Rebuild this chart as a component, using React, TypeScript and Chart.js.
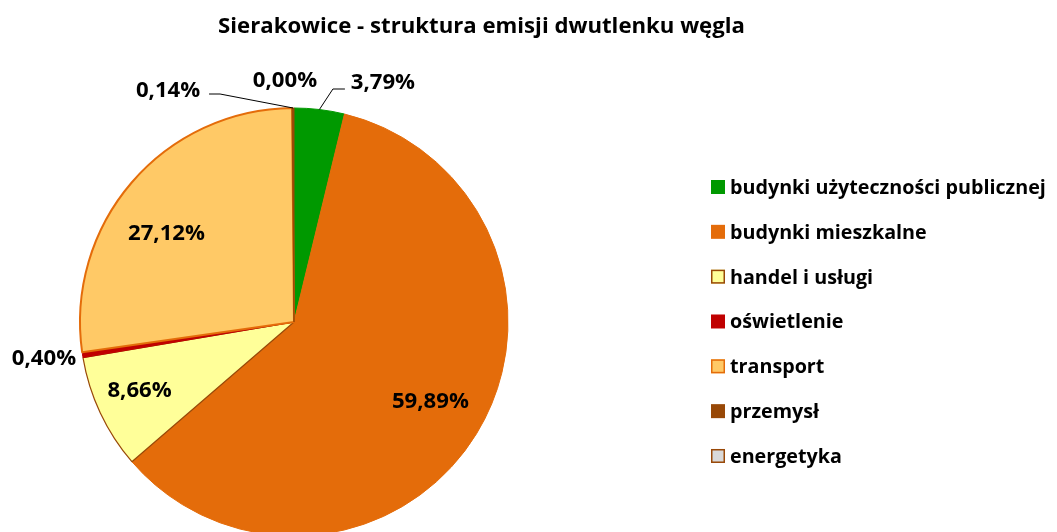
import React, { useEffect, useRef } from "react";
import { Chart, registerables } from "chart.js";

Chart.register(...registerables);

const TITLE = "Sierakowice - struktura emisji dwutlenku węgla";
const categories = [
  "budynki użyteczności publicznej",
  "budynki mieszkalne",
  "handel i usługi",
  "oświetlenie",
  "transport",
  "przemysł",
  "energetyka",
];
const shares = [3.79, 59.89, 8.66, 0.4, 27.12, 0.14, 0.0];
const fillColors = ["#009900", "#E46C0A", "#FFFF99", "#C00000", "#FFC966", "#984807", "#D9D9D9"];
const borderColors = ["#009900", "#E46C0A", "#984807", "#C00000", "#E46C0A", "#984807", "#984807"];
const borderWidths = [1, 1, 1.2, 1, 2, 1, 1];

const FONT = "'Open Sans', 'DejaVu Sans', sans-serif";

type Place =
  | { kind: "in"; f: number; da: number }
  | { kind: "out"; dx: number; dy: number; leader?: [number, number][] };

const placements: Place[] = [
  { kind: "out", dx: 63.5, dy: -28.5, leader: [[13.5, -20.5], [25.5, -20.5]] },
  { kind: "in", f: 0.735, da: -1.6 },
  { kind: "in", f: 0.786, da: 1.8 },
  { kind: "out", dx: -38.6, dy: 2 },
  { kind: "in", f: 0.728, da: -5.6 },
  { kind: "out", dx: -125, dy: -19, leader: [[-73, -14], [-84, -14]] },
  { kind: "out", dx: -9, dy: -29 },
];

const fmt = (v: number) => v.toFixed(2).replace(".", ",") + "%";

// choose a font size whose rendered width matches a target width
function fitFont(ctx: CanvasRenderingContext2D, sample: string, target: number) {
  ctx.font = `bold 20px ${FONT}`;
  const w = ctx.measureText(sample).width;
  const size = (20 * target) / w;
  return `bold ${size.toFixed(2)}px ${FONT}`;
}

const decorPlugin = {
  id: "decor",
  afterDraw(chart: any) {
    const ctx: CanvasRenderingContext2D = chart.ctx;
    const meta = chart.getDatasetMeta(0);
    ctx.save();
    // title
    ctx.fillStyle = "#000";
    ctx.font = fitFont(ctx, TITLE, 527);
    ctx.textAlign = "center";
    ctx.textBaseline = "alphabetic";
    ctx.fillText(TITLE, 481.5, 33);

    // labels
    ctx.font = fitFont(ctx, "59,89%", 77);
    meta.data.forEach((arc: any, i: number) => {
      const p = arc.getProps(["x", "y", "startAngle", "endAngle", "outerRadius"], true);
      const mid = (p.startAngle + p.endAngle) / 2;
      const pl = placements[i];
      let lx: number, ly: number;
      if (pl.kind === "in") {
        const a = mid + (pl.da * Math.PI) / 180;
        lx = p.x + Math.cos(a) * p.outerRadius * pl.f;
        ly = p.y + Math.sin(a) * p.outerRadius * pl.f;
      } else {
        const ax = p.x + Math.cos(mid) * p.outerRadius;
        const ay = p.y + Math.sin(mid) * p.outerRadius;
        lx = ax + pl.dx;
        ly = ay + pl.dy;
        if (pl.leader) {
          ctx.strokeStyle = "#000";
          ctx.lineWidth = 1;
          ctx.beginPath();
          ctx.moveTo(ax, ay);
          pl.leader.forEach(([dx, dy]) => ctx.lineTo(ax + dx, ay + dy));
          ctx.stroke();
        }
      }
      ctx.fillStyle = "#000";
      ctx.textAlign = "center";
      ctx.textBaseline = "alphabetic";
      ctx.fillText(fmt(shares[i]), lx, ly + 8);
    });

    // legend
    ctx.font = fitFont(ctx, categories[0], 316);
    ctx.textAlign = "left";
    ctx.textBaseline = "alphabetic";
    const x0 = 711;
    const y0 = 187;
    const step = 44.83;
    categories.forEach((c, i) => {
      const cy = y0 + i * step;
      ctx.fillStyle = fillColors[i];
      ctx.fillRect(x0, cy - 7, 14, 14);
      if (borderColors[i] !== fillColors[i]) {
        ctx.strokeStyle = borderColors[i];
        ctx.lineWidth = 1.5;
        ctx.strokeRect(x0 + 0.75, cy - 6.25, 12.5, 12.5);
      }
      ctx.fillStyle = "#000";
      ctx.fillText(c, 730, cy + 7);
    });
    ctx.restore();
  },
};

export default function App() {
  const ref = useRef<HTMLCanvasElement>(null);
  useEffect(() => {
    document.body.style.margin = "0";
    const chart = new Chart(ref.current!, {
      type: "pie",
      data: {
        labels: categories,
        datasets: [
          {
            data: shares,
            backgroundColor: fillColors,
            borderColor: borderColors,
            borderWidth: borderWidths,
          },
        ],
      },
      options: {
        responsive: false,
        animation: false,
        layout: { padding: { left: 79, right: 1057 - 509, top: 107, bottom: 560 - 537 } },
        plugins: { legend: { display: false }, tooltip: { enabled: false }, title: { display: false } },
      },
      plugins: [decorPlugin],
    });
    return () => chart.destroy();
  }, []);
  return (
    <div style={{ width: 1057, height: 532, overflow: "hidden", background: "#fff" }}>
      <canvas ref={ref} width={1057} height={560} style={{ display: "block" }} />
    </div>
  );
}
